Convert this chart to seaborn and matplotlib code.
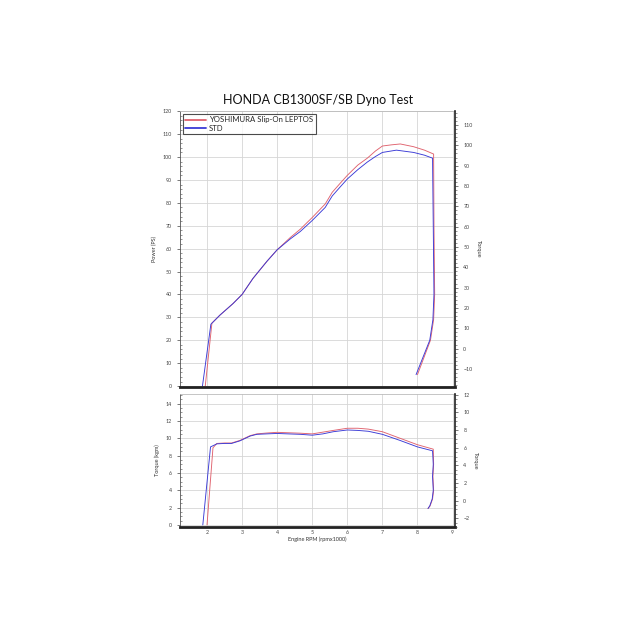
import matplotlib
matplotlib.use("Agg")
import matplotlib.pyplot as plt
from matplotlib.ticker import MultipleLocator
import seaborn as sns
import pandas as pd

# ---- data ----
series_names = ["YOSHIMURA Slip-On LEPTOS", "STD"]

rpm_power_yosh = [1.95, 2.14, 2.37, 2.74, 3.0, 3.31, 3.71, 4.0, 4.37, 4.66, 5.0, 5.37, 5.57, 5.8, 6.0, 6.3, 6.57,
                  6.8, 7.0, 7.25, 7.51, 7.89, 8.2, 8.46, 8.47, 8.49, 8.46, 8.37, 8.0]
power_yosh = [0, 27.5, 31, 36, 40, 47, 54.5, 59.5, 64.8, 68.5, 73.6, 79.5, 84.6, 88.6, 92, 96.5, 99.5,
              102.6, 104.8, 105.3, 105.7, 104.5, 103, 101.3, 70, 40, 29, 20, 5]

rpm_power_std = [1.87, 2.11, 2.37, 2.74, 3.0, 3.31, 3.71, 4.0, 4.37, 4.66, 5.0, 5.37, 5.57, 5.8, 6.0, 6.3, 6.57,
                 6.8, 7.0, 7.4, 7.89, 8.2, 8.43, 8.45, 8.47, 8.44, 8.35, 7.96]
power_std = [0, 27, 31, 36, 40, 47, 54.5, 59.5, 64.2, 67.5, 72.3, 78, 83, 87, 90.4, 94.5, 97.8,
             100.2, 102, 103, 102, 100.8, 99.5, 70, 40, 29, 20, 5]

rpm_torque_yosh = [2.0, 2.17, 2.28, 2.5, 2.7, 2.94, 3.23, 3.42, 3.7, 4.0, 4.18, 4.66, 5.0, 5.3, 5.6, 6.0,
                   6.3, 6.6, 7.0, 7.5, 8.0, 8.45, 8.46, 8.44, 8.46, 8.43, 8.36, 8.3]
torque_yosh = [0, 8.9, 9.4, 9.45, 9.45, 9.75, 10.3, 10.5, 10.6, 10.68, 10.65, 10.58, 10.5, 10.7, 10.9, 11.15,
               11.15, 11.05, 10.75, 10.0, 9.25, 8.74, 7.0, 5.6, 4.0, 3.0, 2.2, 1.9]

rpm_torque_std = [1.88, 2.1, 2.28, 2.5, 2.7, 2.94, 3.23, 3.42, 3.7, 4.0, 4.18, 4.66, 5.0, 5.3, 5.6, 6.0,
                  6.3, 6.6, 7.0, 7.5, 8.0, 8.43, 8.45, 8.43, 8.45, 8.42, 8.35, 8.3]
torque_std = [0, 9.0, 9.35, 9.4, 9.4, 9.7, 10.25, 10.45, 10.5, 10.55, 10.52, 10.45, 10.35, 10.5, 10.75, 10.95,
              10.9, 10.8, 10.45, 9.75, 9.0, 8.55, 7.0, 5.6, 4.0, 3.0, 2.2, 1.9]

x_ticks = [2, 3, 4, 5, 6, 7, 8, 9]

# ---- style ----
sns.set_style("white")
plt.rcParams['font.family'] = ['Lato', 'DejaVu Sans']
colors = {series_names[0]: "#e0626e", series_names[1]: "#3a3ad6"}


def frame(items):
    parts = []
    for name, x, y in items:
        parts.append(pd.DataFrame({"rpm": x, "val": y, "series": name}))
    return pd.concat(parts, ignore_index=True)


power_df = frame([(series_names[0], rpm_power_yosh, power_yosh),
                  (series_names[1], rpm_power_std, power_std)])
torque_df = frame([(series_names[0], rpm_torque_yosh, torque_yosh),
                   (series_names[1], rpm_torque_std, torque_std)])

fig = plt.figure(figsize=(6.4, 6.4), dpi=100)
ax1 = fig.add_axes([0.28125, 0.3953, 0.4297, 0.4313])
ax2 = fig.add_axes([0.28125, 0.1766, 0.4297, 0.2078])

tick_kw = dict(labelsize=3.8, labelcolor="#444444", colors="#444444")

for ax, df, ylim, ymaj, ymin in [(ax1, power_df, (-0.4, 120.1), 10, 2),
                                  (ax2, torque_df, (-0.23, 15.1), 2, 0.5)]:
    sns.lineplot(data=df, x="rpm", y="val", hue="series", palette=colors, sort=False,
                 estimator=None, units="series", linewidth=0.65, ax=ax, legend=(ax is ax1))
    ax.set_xlim(1.23, 9.07)
    ax.set_ylim(*ylim)
    ax.set_xticks(x_ticks)
    ax.xaxis.set_minor_locator(MultipleLocator(0.2))
    ax.yaxis.set_major_locator(MultipleLocator(ymaj))
    ax.yaxis.set_minor_locator(MultipleLocator(ymin))
    ax.grid(True, which="major", color="#d6d6d6", linewidth=0.6)
    ax.tick_params(axis="y", which="major", direction="out", length=2.5, width=0.5, **tick_kw)
    ax.tick_params(axis="y", which="minor", direction="in", length=1.5, width=0.4, colors="#444444")
    ax.tick_params(axis="x", which="major", direction="in", length=3, width=0.6, **tick_kw)
    ax.tick_params(axis="x", which="minor", direction="in", length=2, width=0.5, colors="#444444")
    ax.spines["bottom"].set_linewidth(2.0)
    ax.spines["bottom"].set_color("#222222")
    ax.spines["left"].set_linewidth(0.6)
    ax.spines["left"].set_color("#555555")
    ax.spines["top"].set_color("#bbbbbb")
    ax.spines["top"].set_linewidth(0.6)
    ax.spines["right"].set_visible(False)

ax1.set_xticklabels([])
ax1.set_xlabel("")
ax1.set_ylabel("Power (PS)", fontsize=4, color="#333333", labelpad=4)
ax2.set_ylabel("Torque (kgm)", fontsize=4, color="#333333", labelpad=4)
ax2.set_xlabel("Engine RPM (rpmx1000)", fontsize=4, color="#333333", labelpad=1)
ax2.tick_params(axis="x", which="major", pad=2)

# right-hand scales
for ax, ylim, maj, minr in [(ax1, (-18.9, 116.9), 10, 2), (ax2, (-3.0, 12.1), 2, 0.5)]:
    tw = ax.twinx()
    tw.set_ylim(*ylim)
    tw.yaxis.set_major_locator(MultipleLocator(maj))
    tw.yaxis.set_minor_locator(MultipleLocator(minr))
    tw.tick_params(axis="y", which="major", direction="out", length=2.5, width=0.5, **tick_kw)
    tw.tick_params(axis="y", which="minor", direction="out", length=1.5, width=0.4, colors="#444444")
    for s in ["left", "top", "bottom"]:
        tw.spines[s].set_visible(False)
    tw.spines["right"].set_linewidth(1.2)
    tw.spines["right"].set_color("#222222")
    tw.set_ylabel("Torque", fontsize=4, color="#333333", rotation=270, labelpad=6)

leg = ax1.legend(loc="upper left", fontsize=5.6, frameon=True, fancybox=False,
                 edgecolor="#222222", handlelength=2.6, borderpad=0.35, labelspacing=0.15,
                 handletextpad=0.4, bbox_to_anchor=(0.0, 1.0), borderaxespad=0.35)
leg.get_frame().set_linewidth(0.8)
for line in leg.get_lines():
    line.set_linewidth(1.3)

fig.text(0.497, 0.835, "HONDA CB1300SF/SB Dyno Test", ha="center", va="bottom",
         fontsize=9.0, color="#111111")

fig.savefig("out.png", dpi=100, facecolor="white")
